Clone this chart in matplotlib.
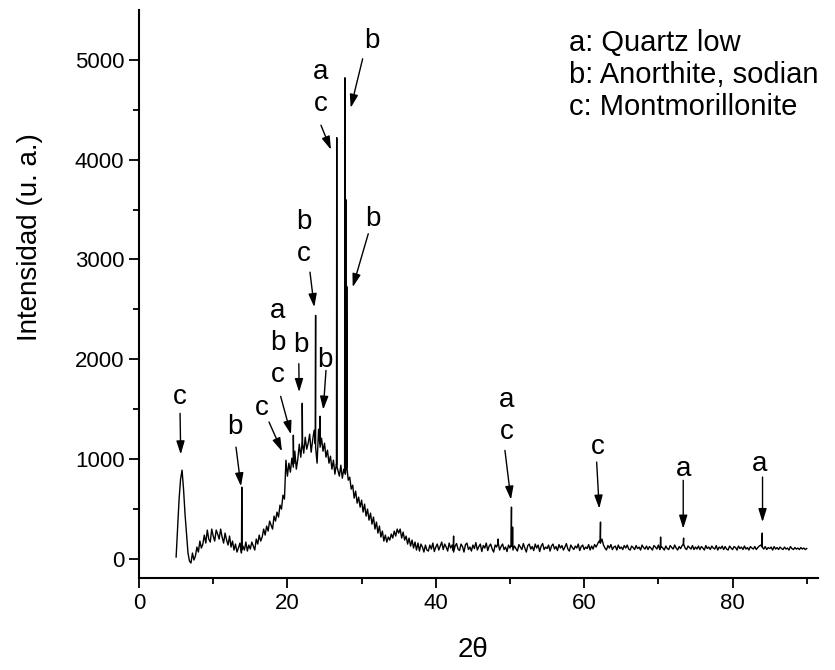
import numpy as np
import matplotlib
matplotlib.use("Agg")
import matplotlib.pyplot as plt

plt.rcParams['font.family'] = ['Liberation Sans', 'DejaVu Sans']

# Diffraction background trace sampled every 0.2 deg (2theta from 5.0 to 90.0)
start_2theta = 5.0
step_2theta = 0.2
background = [
    20, 300, 600, 800, 890, 700, 450, 250, 60, -20,
    -40, 60, -10, 30, 120, 70, 180, 110, 150, 240,
    160, 290, 200, 170, 300, 230, 180, 290, 250, 200,
    300, 220, 160, 260, 190, 140, 230, 120, 180, 90,
    150, 70, 110, 160, 60, 130, 90, 170, 80, 140,
    100, 170, 130, 90, 200, 150, 240, 180, 220, 300,
    240, 330, 280, 380, 340, 300, 430, 380, 470, 420,
    540, 500, 640, 600, 990, 830, 960, 870, 1010, 920,
    1080, 900, 1000, 1150, 1020, 1180, 1060, 1220, 1100, 1160,
    1250, 1070, 1190, 1290, 1120, 960, 1300, 1120, 1210, 1080,
    1160, 1020, 1090, 960, 1030, 900, 990, 850, 950, 890,
    830, 940, 810, 900, 850, 930, 790, 820, 700, 740,
    610, 680, 560, 620, 520, 590, 470, 550, 430, 500,
    390, 460, 350, 420, 300, 370, 260, 330, 220, 280,
    180, 240, 170, 220, 190, 250, 210, 280, 230, 300,
    260, 300, 210, 270, 190, 230, 150, 210, 130, 190,
    110, 170, 90, 160, 80, 150, 120, 70, 140, 90,
    80, 140, 100, 160, 75, 120, 150, 90, 130, 170,
    95, 150, 120, 80, 160, 110, 140, 70, 130, 155,
    100, 85, 150, 125, 70, 145, 160, 95, 120, 80,
    140, 105, 165, 90, 125, 150, 75, 135, 110, 160,
    85, 130, 150, 100, 70, 140, 120, 165, 90, 125,
    150, 95, 120, 75, 140, 110, 160, 90, 130, 105,
    80, 145, 120, 95, 155, 110, 70, 135, 150, 100,
    125, 85, 150, 110, 140, 75, 130, 155, 95, 120,
    105, 140, 80, 130, 150, 100, 125, 85, 145, 110,
    135, 90, 120, 155, 100, 80, 140, 115, 95, 130,
    110, 150, 85, 125, 140, 95, 120, 105, 145, 90,
    130, 100, 145, 120, 150, 180, 160, 200, 140, 110,
    90, 135, 110, 145, 95, 120, 130, 90, 140, 105,
    120, 95, 135, 110, 140, 100, 90, 130, 115, 95,
    135, 105, 120, 90, 140, 115, 100, 130, 95, 125,
    110, 90, 135, 120, 100, 140, 95, 125, 110, 90,
    130, 105, 95, 135, 115, 100, 140, 110, 90, 125,
    105, 135, 150, 110, 95, 130, 115, 100, 135, 95,
    120, 100, 130, 95, 125, 110, 90, 135, 105, 120,
    95, 130, 110, 100, 135, 90, 120, 105, 130, 95,
    125, 100, 90, 130, 110, 95, 125, 115, 90, 130,
    105, 120, 95, 130, 100, 115, 90, 125, 110, 100,
    125, 95, 115, 130, 140, 120, 100, 125, 95, 115,
    105, 120, 90, 125, 100, 115, 95, 120, 105, 95,
    120, 100, 110, 90, 125, 105, 95, 115, 100, 110,
    95, 115, 100, 110, 95, 105,
]

# Sharp reflections (2theta, intensity)
peak_pos = [13.85, 20.8, 22.0, 23.8, 24.4, 26.65, 27.75, 27.87, 28.0,
            42.4, 48.4, 50.2, 50.35, 62.2, 70.3, 73.4, 84.0]
peak_int = [720, 1240, 1560, 2440, 1430, 4220, 4820, 3600, 2730,
            230, 200, 520, 320, 370, 220, 210, 260]

# Phase labels: text, label position, arrow tail and tip (data units)
label_text = ["c", "b", "c", "a\nb\nc", "b", "b", "b\nc", "b", "b", "a\nc", "a\nc", "c", "a", "a"]
label_xy = [(5.43, 1622), (12.94, 1322), (16.57, 1509), (18.69, 2163), (21.79, 2140),
            (25.06, 1996), (22.23, 3220), (31.57, 3408), (31.36, 5193), (24.52, 4718),
            (49.55, 1431), (61.89, 1121), (73.35, 905), (83.68, 955)]
arrow_tail = [(5.53, 1459), (13.07, 1121), (17.52, 1372), (19.09, 1629), (21.54, 1956),
              (25.2, 1889), (23.04, 2873), (30.9, 3258), (30.14, 5010), (24.52, 4345),
              (49.32, 1088), (61.68, 971), (73.35, 788), (84.04, 821)]
arrow_tip = [(5.62, 1048), (13.74, 728), (19.27, 1079), (20.48, 1249), (21.58, 1672),
             (24.83, 1496), (23.62, 2523), (28.8, 2723), (28.53, 4519), (25.87, 4099),
             (50.13, 595), (62.03, 505), (73.35, 304), (84.04, 370)]

legend_lines = ["a: Quartz low", "b: Anorthite, sodian", "c: Montmorillonite"]

# ---- build trace ----
bx = start_2theta + step_2theta * np.arange(len(background))
by = np.array(background, dtype=float)
xs = list(bx)
ys = list(by)
for p, h in zip(peak_pos, peak_int):
    for dx, val in ((-0.04, None), (0.0, h), (0.04, None)):
        xx = p + dx
        xs.append(xx)
        ys.append(np.interp(xx, bx, by) if val is None else val)
order = np.argsort(xs)
xs = np.array(xs)[order]
ys = np.array(ys)[order]

fig = plt.figure(figsize=(8.35, 6.70), dpi=100)
ax = fig.add_axes([0.1665, 0.1373, 0.813, 0.848])
ax.plot(xs, ys, color='black', lw=1.0)

ax.set_xlim(0, 91.5)
ax.set_ylim(-190, 5500)
ax.set_xticks([0, 20, 40, 60, 80])
ax.set_xticks([10, 30, 50, 70, 90], minor=True)
ax.set_yticks([0, 1000, 2000, 3000, 4000, 5000])
ax.set_yticks([500, 1500, 2500, 3500, 4500], minor=True)
for s in ('top', 'right'):
    ax.spines[s].set_visible(False)
for s in ('left', 'bottom'):
    ax.spines[s].set_linewidth(1.5)
ax.tick_params(which='major', direction='out', length=7, width=1.3, labelsize=16)
ax.tick_params(which='minor', direction='out', length=4, width=1.3)
ax.set_xlabel("2θ", fontsize=20)
ax.xaxis.set_label_coords((473 - 139) / 679.0, -(650 - 578) / 568.0)
ax.set_ylabel("Intensidad (u. a.)", fontsize=20)
ax.yaxis.set_label_coords((30 - 139) / 679.0, (578 - 237) / 568.0)
ax.xaxis.label.set_va('center')
ax.yaxis.label.set_va('center')

for t, (lx, ly), (tx, ty), (hx, hy) in zip(label_text, label_xy, arrow_tail, arrow_tip):
    ax.text(lx, ly, t, fontsize=20, ha='center', va='center', linespacing=1.3)
    ax.annotate("", xy=(hx, hy), xytext=(tx, ty),
                arrowprops=dict(arrowstyle='-|>,head_length=0.8,head_width=0.25',
                                lw=1.0, color='black', shrinkA=0, shrinkB=0),
                annotation_clip=False)

for i, line in enumerate(legend_lines):
    fig.text(569 / 835, 1 - (43 + 32 * i) / 670, line, fontsize=21,
             ha='left', va='center')

fig.savefig("out.png", dpi=100)
